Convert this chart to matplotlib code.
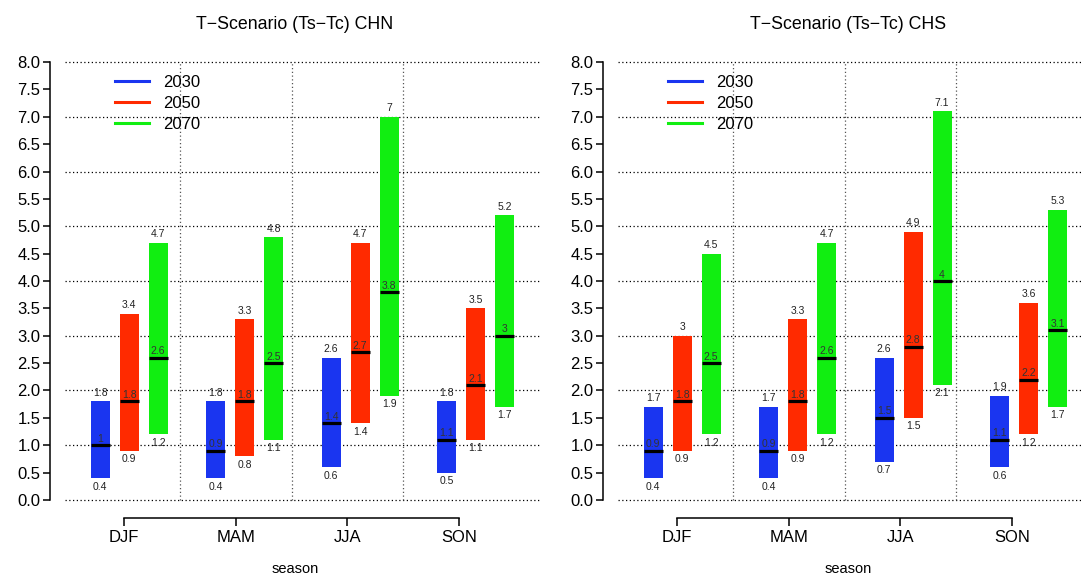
import numpy as np
import matplotlib
matplotlib.use("Agg")
from matplotlib import pyplot as plt
from matplotlib.lines import Line2D

plt.rcParams['font.family'] = ['Liberation Sans', 'DejaVu Sans']

seasons = ['DJF', 'MAM', 'JJA', 'SON']
periods = ['2030', '2050', '2070']
colors = ['#1a35f0', '#ff2a00', '#11ee11']

# CHN: low / median / high for each period, by season
chn_low = [[0.4, 0.4, 0.6, 0.5], [0.9, 0.8, 1.4, 1.1], [1.2, 1.1, 1.9, 1.7]]
chn_med = [[1, 0.9, 1.4, 1.1], [1.8, 1.8, 2.7, 2.1], [2.6, 2.5, 3.8, 3]]
chn_high = [[1.8, 1.8, 2.6, 1.8], [3.4, 3.3, 4.7, 3.5], [4.7, 4.8, 7, 5.2]]

# CHS
chs_low = [[0.4, 0.4, 0.7, 0.6], [0.9, 0.9, 1.5, 1.2], [1.2, 1.2, 2.1, 1.7]]
chs_med = [[0.9, 0.9, 1.5, 1.1], [1.8, 1.8, 2.8, 2.2], [2.5, 2.6, 4, 3.1]]
chs_high = [[1.7, 1.7, 2.6, 1.9], [3, 3.3, 4.9, 3.6], [4.5, 4.7, 7.1, 5.3]]

W, H = 1082, 579
fig = plt.figure(figsize=(W / 100, H / 100), dpi=100)

group_x = 1.045 + 1.034 * np.arange(4)
offsets = [-0.26, 0.0, 0.26]
bw = 0.17
dotted = (0, (1, 2))


def panel(left_px, low, med, high, title):
    ax = fig.add_axes([left_px / W, (H - 517.5) / H, 490 / W, 473 / H])
    ax.set_xlim(0.337, 4.724)
    ax.set_ylim(-0.32, 8.32)

    # dotted grid
    ax.hlines(np.arange(0, 9), 0.47, 4.724, colors='black', linewidth=0.9,
              linestyles=dotted, zorder=1)
    ax.vlines([1.5, 2.5, 3.5], 0, 8, colors='#555555', linewidth=0.9,
              linestyles=dotted, zorder=1)

    for k in range(3):
        xs = group_x + offsets[k]
        lo = np.array(low[k])
        hi = np.array(high[k])
        md = np.array(med[k])
        ax.bar(xs, hi - lo, bottom=lo, width=bw, color=colors[k], zorder=2)
        ax.hlines(md, xs - bw / 2, xs + bw / 2, colors='black', linewidth=2.3, zorder=3)
        for x, a, m, b in zip(xs, lo, md, hi):
            ax.annotate(f'{b:g}', (x, b), xytext=(0, 2.5), textcoords='offset points',
                        ha='center', va='bottom', fontsize=7.5, color='#222222')
            ax.annotate(f'{a:g}', (x, a), xytext=(0, -2.5), textcoords='offset points',
                        ha='center', va='top', fontsize=7.5, color='#222222')
            ax.annotate(f'{m:g}', (x, m), xytext=(0, 1), textcoords='offset points',
                        ha='center', va='bottom', fontsize=7.5, color='#333333')

    for s in ['top', 'right']:
        ax.spines[s].set_visible(False)
    ax.spines['left'].set_bounds(0, 8)
    ax.spines['bottom'].set_bounds(1, 4)
    ax.spines['left'].set_linewidth(1.1)
    ax.spines['bottom'].set_linewidth(1.1)

    ax.set_yticks(np.arange(0, 8.01, 0.5))
    ax.set_yticklabels([f'{v:.1f}' for v in np.arange(0, 8.01, 0.5)])
    ax.set_xticks([1, 2, 3, 4])
    ax.set_xticklabels(seasons)
    ax.tick_params(axis='y', direction='out', length=5, width=1.1, labelsize=12, pad=2)
    ax.tick_params(axis='x', direction='out', length=6, width=1.1, labelsize=12, pad=3)
    ax.set_xlabel('season', fontsize=10.5, labelpad=12)
    ax.set_title(title, fontsize=12.8, pad=11)

    handles = [Line2D([], [], color=c, linewidth=2.2) for c in colors]
    ax.legend(handles, periods, loc='upper left', bbox_to_anchor=(0.133, 0.935),
              frameon=False, fontsize=12, handlelength=2.0, handletextpad=0.9,
              labelspacing=0.36, borderpad=0, borderaxespad=0)
    return ax


panel(50, chn_low, chn_med, chn_high, 'T\u2212Scenario (Ts\u2212Tc) CHN')
panel(603, chs_low, chs_med, chs_high, 'T\u2212Scenario (Ts\u2212Tc) CHS')

fig.savefig('out.png', dpi=100)
